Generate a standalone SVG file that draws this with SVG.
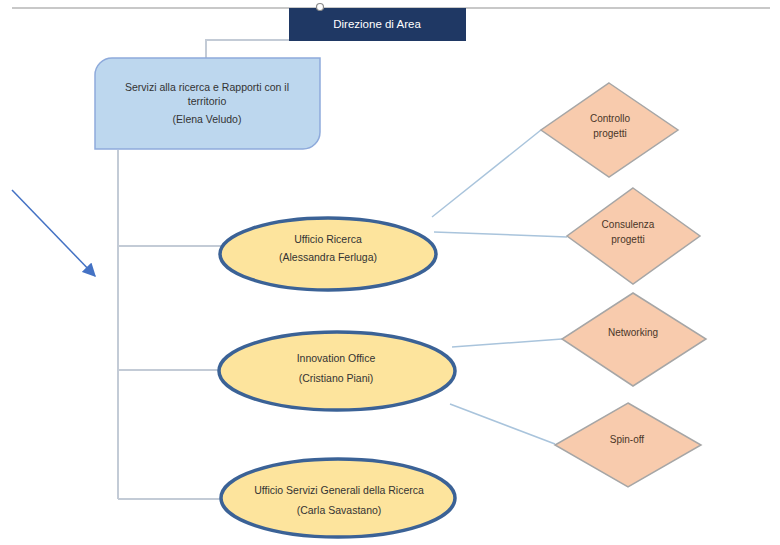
<svg xmlns="http://www.w3.org/2000/svg" width="780" height="545" viewBox="0 0 780 545">
<defs>
<style>
.t{font-family:"Liberation Sans",Arial,sans-serif;font-size:10.5px;fill:#333333;text-anchor:middle}
.dt{font-family:"Liberation Sans",Arial,sans-serif;font-size:10px;fill:#4a3628;text-anchor:middle}
.ell{fill:#fde49d;stroke:#3b6296;stroke-width:3.5}
.dia{fill:#f8cbad;stroke:#a6a6a6;stroke-width:1.5}
.sp{stroke:#c3cbd6;stroke-width:2;fill:none}
.lk{stroke:#a9c4dc;stroke-width:1.5;fill:none}
</style>
<marker id="ah" viewBox="0 0 10 10" refX="9" refY="5" markerWidth="9" markerHeight="9" orient="auto-start-reverse"><path d="M0,0L10,5L0,10Z" fill="#4472c4"/></marker>
</defs>
<rect width="780" height="545" fill="#ffffff"/>
<line x1="12" y1="8" x2="770" y2="8" stroke="#c8c8c8" stroke-width="2"/>
<g id="connectors">
<polyline class="sp" points="289,40 206,40 206,58" stroke="#5b7fa8"/>
<line class="sp" x1="118" y1="150" x2="118" y2="499"/>
<line class="sp" x1="118" y1="246" x2="222" y2="246"/>
<line class="sp" x1="118" y1="370" x2="220" y2="370"/>
<line class="sp" x1="118" y1="499" x2="221" y2="499"/>
<line class="lk" x1="432" y1="217" x2="541" y2="130"/>
<line class="lk" x1="434" y1="232" x2="567" y2="237"/>
<line class="lk" x1="452" y1="347" x2="562" y2="339"/>
<line class="lk" x1="450" y1="404" x2="555" y2="444"/>
<line x1="12" y1="190" x2="95" y2="276" stroke="#4472c4" stroke-width="1.5" marker-end="url(#ah)"/>
</g>
<g id="direzione">
<rect x="289" y="8" width="177" height="33" fill="#1f3864"/>
<circle cx="320" cy="7" r="3.5" fill="#ffffff" stroke="#8c8c8c" stroke-width="1.2"/>
<text x="377" y="28" style="font-family:'Liberation Sans',Arial,sans-serif;font-size:11.5px;fill:#ffffff;text-anchor:middle">Direzione di Area</text>
</g>
<g id="servizi">
<path d="M95,75 A17,17 0 0 1 112,58 H320 V132 A17,17 0 0 1 303,149 H95 Z" fill="#bdd7ee" stroke="#8eaadb" stroke-width="1.5"/>
<text class="t" x="207" y="91">Servizi alla ricerca e Rapporti con il</text>
<text class="t" x="207" y="105">territorio</text>
<text class="t" x="207" y="123">(Elena Veludo)</text>
</g>
<g id="ufficio-ricerca">
<ellipse class="ell" cx="328" cy="254" rx="108" ry="36"/>
<text class="t" x="328" y="243">Ufficio Ricerca</text>
<text class="t" x="328" y="261">(Alessandra Ferluga)</text>
</g>
<g id="innovation">
<ellipse class="ell" cx="337" cy="371" rx="118" ry="39"/>
<text class="t" x="336" y="362">Innovation Office</text>
<text class="t" x="336" y="382">(Cristiano Piani)</text>
</g>
<g id="servizi-generali">
<ellipse class="ell" cx="338" cy="498" rx="117" ry="39"/>
<text class="t" x="339" y="494">Ufficio Servizi Generali della Ricerca</text>
<text class="t" x="339" y="514">(Carla Savastano)</text>
</g>
<g id="controllo">
<polygon class="dia" points="609,83 678,130 609,177 541,130"/>
<text class="dt" x="610" y="122">Controllo</text>
<text class="dt" x="610" y="137">progetti</text>
</g>
<g id="consulenza">
<polygon class="dia" points="633,188 700,236 633,284 567,236"/>
<text class="dt" x="628" y="228">Consulenza</text>
<text class="dt" x="628" y="243">progetti</text>
</g>
<g id="networking">
<polygon class="dia" points="633,293 706,339 633,386 562,339"/>
<text class="dt" x="633" y="336">Networking</text>
</g>
<g id="spinoff">
<polygon class="dia" points="628,403 701,445 628,487 555,445"/>
<text class="dt" x="627" y="443">Spin-off</text>
</g>
</svg>
